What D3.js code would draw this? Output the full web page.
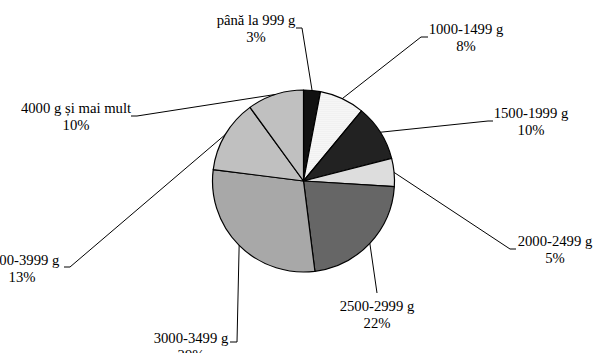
<!DOCTYPE html>
<html>
<head>
<meta charset="utf-8">
<script src="https://cdn.jsdelivr.net/npm/d3@7"></script>
<style>
  html, body { margin: 0; padding: 0; background: #fff; }
  svg { display: block; }
</style>
</head>
<body>
<svg id="chart" width="593" height="353"></svg>
<script>
// Weight classes and their shares (%)
const categories = [
  "până la 999 g", "1000-1499 g", "1500-1999 g", "2000-2499 g",
  "2500-2999 g", "3000-3499 g", "3500-3999 g", "4000 g și mai mult"
];
const shares = [3, 8, 10, 5, 22, 29, 13, 10];

// Fill per slice
const fills = ["#111111", "url(#dots)", "#222222", "#dddddd", "#666666", "#a8a8a8", "#c0c0c0", "#c0c0c0"];

// Label placement: text centre x, first baseline y, leader elbow points
const labelLayout = [
  { x: 256, y: 25, path: [[302, 28], [296, 28]] },
  { x: 466, y: 34, path: [[421, 37], [428, 37]] },
  { x: 531, y: 118, path: [[488, 121], [493, 121]] },
  { x: 555, y: 246, path: [[510, 249], [516, 249]] },
  { x: 377, y: 311, path: [[377, 293]] },
  { x: 191, y: 343, path: [[237, 342], [230, 342]] },
  { x: 22, y: 265, path: [[70, 267], [64, 267]] },
  { x: 76, y: 113, path: [[137, 116], [131, 116]] }
];

const svg = d3.select("#chart");
const cx = 303.5, cy = 181, r = 91;
const fontFamily = "'Liberation Serif', 'Times New Roman', Tinos, 'DejaVu Serif', serif";

// Faint checker pattern for the light slice
const defs = svg.append("defs");
const pat = defs.append("pattern").attr("id", "dots")
  .attr("patternUnits", "userSpaceOnUse").attr("width", 2).attr("height", 2);
pat.append("rect").attr("width", 2).attr("height", 2).attr("fill", "#ffffff");
pat.append("rect").attr("x", 0).attr("y", 0).attr("width", 1).attr("height", 1).attr("fill", "#e2e2e2");
pat.append("rect").attr("x", 1).attr("y", 1).attr("width", 1).attr("height", 1).attr("fill", "#ececec");

const pie = d3.pie().sort(null).value(d => d)(shares);
const arc = d3.arc().innerRadius(0).outerRadius(r);
const edge = d3.arc().innerRadius(r).outerRadius(r);

const g = svg.append("g").attr("transform", `translate(${cx},${cy})`);
g.selectAll("path.slice").data(pie).join("path")
  .attr("class", "slice")
  .attr("d", arc)
  .attr("fill", (d, i) => fills[i])
  .attr("stroke", "#000")
  .attr("stroke-width", 1.2)
  .attr("stroke-linejoin", "round");

// Leader lines from each slice's outer edge to its label
const line = d3.line();
pie.forEach((d, i) => {
  const c = edge.centroid(d);
  const pts = [[cx + c[0], cy + c[1]]].concat(labelLayout[i].path);
  svg.append("path").attr("d", line(pts))
    .attr("fill", "none").attr("stroke", "#000").attr("stroke-width", 1);
});

// Two-line labels: category and share
const lbl = svg.append("g")
  .attr("font-family", fontFamily)
  .attr("font-size", 14.7)
  .attr("fill", "#000");
categories.forEach((name, i) => {
  const L = labelLayout[i];
  const t = lbl.append("text").attr("text-anchor", "middle");
  t.append("tspan").attr("x", L.x).attr("y", L.y).text(name);
  t.append("tspan").attr("x", L.x).attr("y", L.y + 17).text(shares[i] + "%");
});
</script>
</body>
</html>
